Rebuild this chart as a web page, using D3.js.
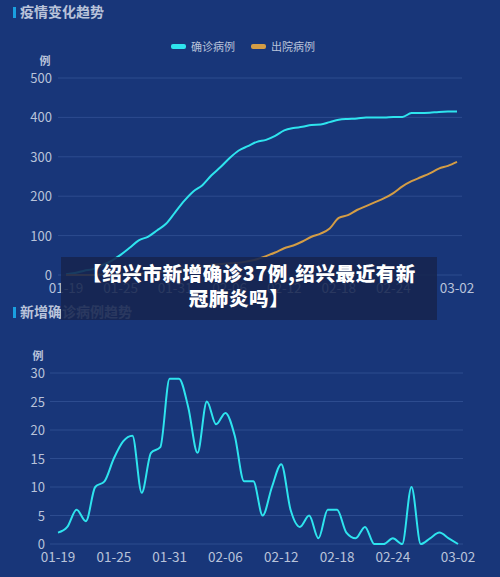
<!DOCTYPE html>
<html><head><meta charset="utf-8">
<script src="https://cdn.jsdelivr.net/npm/d3@7"></script>
<style>body{margin:0;background:#183679;}svg{display:block;font-family:"Noto Sans CJK SC","Noto Sans",sans-serif;}</style>
</head><body><svg id="c" width="500" height="577"></svg>
<script>
const dates=["01-19","01-20","01-21","01-22","01-23","01-24","01-25","01-26","01-27","01-28","01-29","01-30","01-31","02-01","02-02","02-03","02-04","02-05","02-06","02-07","02-08","02-09","02-10","02-11","02-12","02-13","02-14","02-15","02-16","02-17","02-18","02-19","02-20","02-21","02-22","02-23","02-24","02-25","02-26","02-27","02-28","02-29","03-01","03-02"];
const tickLabels=["01-19","01-25","01-31","02-06","02-12","02-18","02-24","03-02"];
const confirmed=[2,5,11,15,25,36,51,69,88,97,113,130,159,188,212,228,253,274,297,316,327,338,343,353,367,373,376,381,382,388,394,396,397,400,400,400,401,401,411,411,412,414,415,415];
const discharged=[0,0,0,0,1,1,2,3,4,5,7,9,12,15,18,22,26,28,30,31,35,40,48,57,68,75,85,97,105,118,145,152,165,175,185,195,208,225,238,248,258,270,277,287];
const daily=[2,3,6,4,10,11,15,18,19,9,16,17,29,29,24,16,25,21,23,19,11,11,5,10,14,6,3,5,1,6,6,2,1,3,0,0,1,0,10,0,1,2,1,0];
const topTicks=[0,100,200,300,400,500];
const botTicks=[0,5,10,15,20,25,30];

const svg=d3.select("#c");
const txt="#b9c3da", grid="#2d4c8f", cyan="#2ee4ee", orange="#d49d45";

function title(y,t){
  svg.append("rect").attr("x",13).attr("y",y-9).attr("width",3).attr("height",11).attr("fill","#1a9fe0");
  svg.append("text").attr("x",20).attr("y",y+1).attr("fill",txt).attr("font-size",14).attr("font-weight","bold").text(t);
}
function chart(o){
  const x=d3.scalePoint().domain(dates).range([o.x0,o.x1]);
  const y=d3.scaleLinear().domain([0,o.max]).range([o.y0,o.y1]);
  o.ticks.forEach(t=>{
    svg.append("line").attr("x1",o.x0-8).attr("x2",o.x1+5).attr("y1",y(t)).attr("y2",y(t)).attr("stroke",grid);
    svg.append("text").attr("x",o.lx).attr("y",y(t)+5).attr("text-anchor","end").attr("fill",txt).attr("font-size",13).text(t);
  });
  svg.append("text").attr("x",o.ux).attr("y",o.y1-13).attr("text-anchor","middle").attr("fill",txt).attr("font-size",11).attr("font-weight","bold").text("例");
  tickLabels.forEach(d=>{
    svg.append("text").attr("x",x(d)).attr("y",o.y0+18).attr("text-anchor","middle").attr("fill",txt).attr("font-size",13.5).text(d);
  });
  o.series.forEach(s=>{
    svg.append("path").datum(s.v).attr("fill","none").attr("stroke",s.c).attr("stroke-width",2)
      .attr("d",d3.line().x((d,i)=>x(dates[i])).y(d=>y(d)).curve(d3.curveMonotoneX));
  });
}
title(16,"疫情变化趋势");
svg.append("rect").attr("x",171).attr("y",44).attr("width",15).attr("height",5).attr("rx",2).attr("fill",cyan);
svg.append("text").attr("x",191).attr("y",51).attr("fill",txt).attr("font-size",11).text("确诊病例");
svg.append("rect").attr("x",251).attr("y",44).attr("width",15).attr("height",5).attr("rx",2).attr("fill",orange);
svg.append("text").attr("x",271).attr("y",51).attr("fill",txt).attr("font-size",11).text("出院病例");
chart({x0:66,x1:457,y0:275,y1:78,max:500,ticks:topTicks,lx:52,ux:45,series:[{v:confirmed,c:cyan},{v:discharged,c:orange}]});
title(316,"新增确诊病例趋势");
chart({x0:58,x1:458,y0:544,y1:373,max:30,ticks:botTicks,lx:45,ux:38,series:[{v:daily,c:cyan}]});
svg.append("rect").attr("x",61).attr("y",257).attr("width",376).attr("height",63).attr("fill","#16244e").attr("opacity",0.88);
svg.append("text").attr("x",249).attr("y",281).attr("text-anchor","middle").attr("fill","#fff").attr("font-size",19.5).attr("font-weight","900").attr("letter-spacing",0.6).text("【绍兴市新增确诊37例,绍兴最近有新");
svg.append("text").attr("x",239).attr("y",306).attr("text-anchor","middle").attr("fill","#fff").attr("font-size",19.5).attr("font-weight","900").attr("letter-spacing",0.6).text("冠肺炎吗】");
</script></body></html>
